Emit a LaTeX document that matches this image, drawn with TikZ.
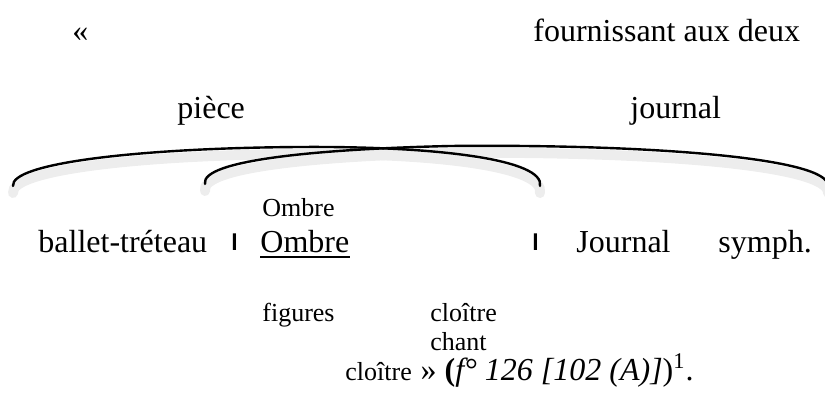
\documentclass[tikz,border=0pt]{standalone}
\usepackage{fontspec}
\setmainfont{Liberation Serif}
\newfontfamily\barfont{Liberation Sans}
\begin{document}
\begin{tikzpicture}[
        x=0.5pt, y=-0.5pt,
        word/.style={anchor=base west, inner sep=0pt, font=\fontsize{16}{19}\selectfont},
        small/.style={anchor=base west, inner sep=0pt, font=\fontsize{13}{15}\selectfont},
        bar/.style={anchor=base west, inner sep=0pt, font=\barfont\bfseries\fontsize{11.5}{13}\selectfont},
        arc/.style={line width=1.2pt, line cap=round},
        shade/.style={line width=5pt, draw=black!7, line cap=round}
    ]
        \useasboundingbox (0,0) rectangle (825,394);

        % top lines
        \node[word] (guil) at (72,42) {«};
        \node[word] (fourn) at (533,42) {fournissant aux deux};
        \node[word] (piece) at (177,119) {pièce};
        \node[word] (journ) at (630,119) {journal};

        % the two arcs, with a soft shadow
        \draw[shade, yshift=-3.5pt] (13,186) .. controls (10,163) and (140,148) .. (300,147)
            .. controls (440,146) and (545,160) .. (540,186);
        \draw[shade, yshift=-3.5pt] (205,184) .. controls (200,160) and (320,149) .. (450,146)
            .. controls (650,144) and (830,158) .. (828,186);
        \draw[arc] (13,186) .. controls (10,163) and (140,148) .. (300,147)
            .. controls (440,146) and (545,160) .. (540,186);
        \draw[arc] (205,184) .. controls (200,160) and (320,149) .. (450,146)
            .. controls (650,144) and (830,158) .. (828,186);

        % middle line
        \node[small] (ombsup) at (262,217) {Ombre};
        \node[word] (ballet) at (38,253) {ballet-tréteau};
        \node[bar] (bara) at (231,251) {l};
        \node[word] (ombre) at (260,253) {Ombre};
        \draw[line width=0.7pt] ([yshift=-2pt]ombre.base west) -- ([yshift=-2pt]ombre.base east);
        \node[bar] (barb) at (532,251) {l};
        \node[word] (jour) at (576,253) {Journal};
        \node[word] (symph) at (718,253) {symph.};

        % lower lines
        \node[small] (fig) at (262,322) {figures};
        \node[small] (cloa) at (430,322) {cloître};
        \node[small] (chant) at (430,351) {chant};
        \node[small] (clob) at (345,381) {cloître};
        \node[word, anchor=base west] (ref) at (clob.base east)
            {~»~\textbf{(}\textit{f°~126~[102~(A)]})\textsuperscript{1}.};
    \end{tikzpicture}
\end{document}
